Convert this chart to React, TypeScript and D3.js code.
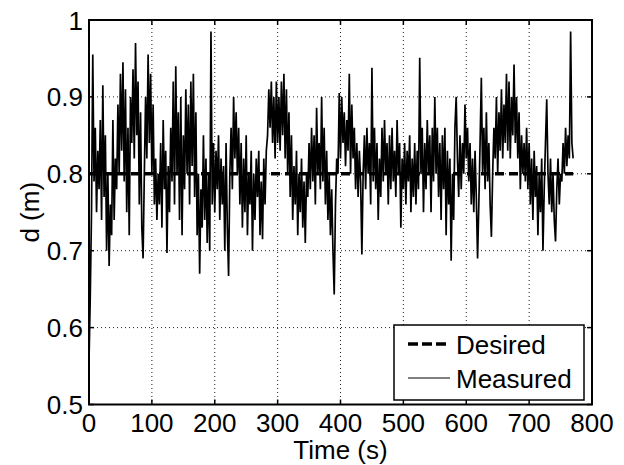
import React from "react";
import * as d3 from "d3";

// tick values and labels
const xTicks = [0, 100, 200, 300, 400, 500, 600, 700, 800];
const xTickLabels = ["0", "100", "200", "300", "400", "500", "600", "700", "800"];
const yTicks = [0.5, 0.6, 0.7, 0.8, 0.9, 1];
const yTickLabels = ["0.5", "0.6", "0.7", "0.8", "0.9", "1"];

// desired distance (set point)
const desiredTimes = [0, 770];
const desiredValues = [0.8, 0.8];

const sampleStep = 2;
const measured = [
  0.555, 0.64, 0.75, 0.955, 0.79, 0.86, 0.75, 0.83, 0.78, 0.87,
  0.74, 0.915, 0.77, 0.85, 0.70, 0.80, 0.68, 0.76, 0.72, 0.87,
  0.74, 0.82, 0.78, 0.89, 0.80, 0.93, 0.83, 0.945, 0.79, 0.91,
  0.75, 0.86, 0.72, 0.90, 0.84, 0.936, 0.82, 0.97, 0.85, 0.92,
  0.76, 0.88, 0.73, 0.69, 0.80, 0.90, 0.82, 0.955, 0.84, 0.93,
  0.80, 0.89, 0.76, 0.82, 0.74, 0.80, 0.76, 0.84, 0.73, 0.87,
  0.78, 0.83, 0.697, 0.81, 0.75, 0.86, 0.79, 0.92, 0.76, 0.94,
  0.80, 0.88, 0.74, 0.90, 0.72, 0.85, 0.78, 0.91, 0.80, 0.89,
  0.76, 0.92, 0.81, 0.93, 0.77, 0.88, 0.72, 0.80, 0.67, 0.78,
  0.73, 0.85, 0.74, 0.82, 0.71, 0.80, 0.70, 0.985, 0.76, 0.84,
  0.75, 0.83, 0.78, 0.85, 0.74, 0.82, 0.76, 0.81, 0.70, 0.84,
  0.73, 0.667, 0.80, 0.86, 0.78, 0.90, 0.82, 0.88, 0.80, 0.86,
  0.76, 0.84, 0.73, 0.82, 0.75, 0.85, 0.72, 0.80, 0.76, 0.83,
  0.70, 0.80, 0.74, 0.82, 0.77, 0.83, 0.72, 0.79, 0.715, 0.82,
  0.76, 0.83, 0.85, 0.91, 0.86, 0.92, 0.84, 0.90, 0.82, 0.92,
  0.84, 0.90, 0.83, 0.92, 0.85, 0.93, 0.82, 0.91, 0.80, 0.88,
  0.77, 0.85, 0.74, 0.81, 0.76, 0.83, 0.72, 0.80, 0.75, 0.82,
  0.73, 0.79, 0.71, 0.80, 0.77, 0.84, 0.78, 0.86, 0.79, 0.85,
  0.76, 0.886, 0.80, 0.84, 0.78, 0.90, 0.79, 0.86, 0.76, 0.83,
  0.74, 0.80, 0.72, 0.78, 0.70, 0.643, 0.76, 0.82, 0.80, 0.905,
  0.82, 0.90, 0.84, 0.88, 0.81, 0.87, 0.83, 0.93, 0.80, 0.89,
  0.82, 0.86, 0.78, 0.84, 0.77, 0.83, 0.79, 0.695, 0.80, 0.85,
  0.78, 0.86, 0.80, 0.84, 0.76, 0.938, 0.79, 0.86, 0.78, 0.84,
  0.74, 0.82, 0.77, 0.86, 0.79, 0.87, 0.80, 0.84, 0.76, 0.85,
  0.78, 0.86, 0.79, 0.83, 0.77, 0.87, 0.80, 0.84, 0.73, 0.82,
  0.78, 0.84, 0.76, 0.83, 0.79, 0.85, 0.75, 0.82, 0.77, 0.84,
  0.76, 0.83, 0.78, 0.951, 0.80, 0.86, 0.75, 0.84, 0.78, 0.87,
  0.80, 0.85, 0.75, 0.86, 0.79, 0.90, 0.80, 0.86, 0.77, 0.84,
  0.74, 0.85, 0.78, 0.86, 0.72, 0.83, 0.76, 0.82, 0.687, 0.80,
  0.74, 0.86, 0.90, 0.82, 0.77, 0.85, 0.78, 0.84, 0.80, 0.89,
  0.82, 0.86, 0.79, 0.84, 0.76, 0.82, 0.75, 0.83, 0.77, 0.69,
  0.76, 0.84, 0.925, 0.80, 0.86, 0.78, 0.88, 0.79, 0.84, 0.76,
  0.718, 0.80, 0.86, 0.82, 0.90, 0.80, 0.88, 0.83, 0.91, 0.82,
  0.89, 0.84, 0.93, 0.83, 0.92, 0.82, 0.90, 0.85, 0.942, 0.84,
  0.90, 0.82, 0.88, 0.78, 0.85, 0.80, 0.84, 0.79, 0.86, 0.78,
  0.84, 0.76, 0.82, 0.74, 0.83, 0.77, 0.81, 0.72, 0.80, 0.75,
  0.82, 0.70, 0.78, 0.84, 0.897, 0.80, 0.76, 0.82, 0.75, 0.80,
  0.74, 0.712, 0.78, 0.82, 0.76, 0.80, 0.79, 0.84, 0.80, 0.86,
  0.81, 0.85, 0.82, 0.985, 0.84, 0.82,
];

const W = 624;
const H = 465;
const left = 89, right = 592, top = 20, bottom = 404.5;
const font = "'Liberation Sans', Arial, Helvetica, sans-serif";
const fs = 26;
const tickLen = 5;

export default function App() {
  const x = d3.scaleLinear().domain([0, 800]).range([left, right]);
  const y = d3.scaleLinear().domain([0.5, 1]).range([bottom, top]);

  const line = d3
    .line<[number, number]>()
    .x((d) => x(d[0]))
    .y((d) => y(d[1]));

  const measuredPts: [number, number][] = measured.map((v, i) => [i * sampleStep, v]);
  const desiredPts: [number, number][] = desiredTimes.map((t, i) => [t, desiredValues[i]]);

  return (
    <div style={{ position: "absolute", left: 0, top: 0 }}>
      <svg width={W} height={H} style={{ display: "block", background: "#fff" }}>
        <rect x={0} y={0} width={W} height={H} fill="#fff" />

        {/* grid */}
        <g stroke="#222" strokeWidth={1} strokeDasharray="1,3">
          {xTicks.slice(1, -1).map((t) => (
            <line key={"gx" + t} x1={x(t)} x2={x(t)} y1={top} y2={bottom} />
          ))}
          {yTicks.slice(1, -1).map((t) => (
            <line key={"gy" + t} x1={left} x2={right} y1={y(t)} y2={y(t)} />
          ))}
        </g>

        {/* data */}
        <path d={line(desiredPts) || ""} fill="none" stroke="#000" strokeWidth={3.5} strokeDasharray="9,5" />
        <path d={line(measuredPts) || ""} fill="none" stroke="#000" strokeWidth={1.7} strokeLinejoin="miter" strokeMiterlimit={2} />

        {/* ticks */}
        <g stroke="#000" strokeWidth={1.5}>
          {xTicks.map((t) => (
            <g key={"tx" + t}>
              <line x1={x(t)} x2={x(t)} y1={bottom} y2={bottom - tickLen} />
              <line x1={x(t)} x2={x(t)} y1={top} y2={top + tickLen} />
            </g>
          ))}
          {yTicks.map((t) => (
            <g key={"ty" + t}>
              <line x1={left} x2={left + tickLen} y1={y(t)} y2={y(t)} />
              <line x1={right} x2={right - tickLen} y1={y(t)} y2={y(t)} />
            </g>
          ))}
        </g>

        {/* box */}
        <rect x={left} y={top} width={right - left} height={bottom - top} fill="none" stroke="#000" strokeWidth={2} />

        {/* tick labels */}
        <g fontFamily={font} fontSize={fs} fill="#000">
          {xTicks.map((t, i) => (
            <text key={"lx" + t} x={x(t)} y={bottom + 27} textAnchor="middle">
              {xTickLabels[i]}
            </text>
          ))}
          {yTicks.map((t, i) => (
            <text key={"ly" + t} x={left - 6} y={y(t) + 9.5} textAnchor="end">
              {yTickLabels[i]}
            </text>
          ))}
          <text x={(left + right) / 2} y={459} textAnchor="middle">
            Time (s)
          </text>
          <text transform={`translate(39, ${(top + bottom) / 2}) rotate(-90)`} textAnchor="middle">
            d (m)
          </text>
        </g>

        {/* legend */}
        <g>
          <rect x={394} y={325} width={190} height={75} fill="#fff" stroke="#000" strokeWidth={1.5} />
          <line x1={408} x2={450} y1={344} y2={344} stroke="#000" strokeWidth={3.5} strokeDasharray="10,4" />
          <line x1={408} x2={450} y1={378} y2={378} stroke="#000" strokeWidth={1} />
          <text x={456} y={354} fontFamily={font} fontSize={fs}>
            Desired
          </text>
          <text x={456} y={388} fontFamily={font} fontSize={fs}>
            Measured
          </text>
        </g>
      </svg>
    </div>
  );
}
